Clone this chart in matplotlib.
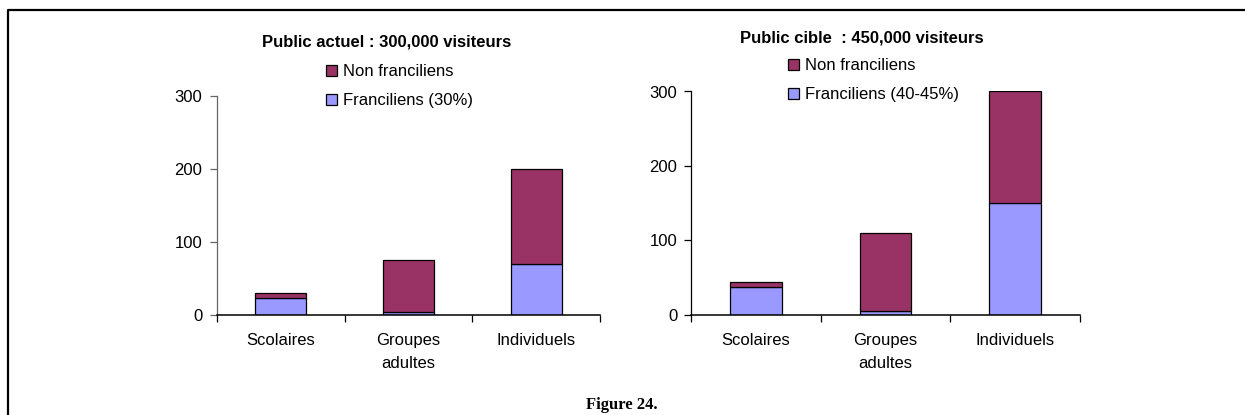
import matplotlib
matplotlib.use("Agg")
import matplotlib.pyplot as plt
from matplotlib.patches import Patch
from matplotlib.lines import Line2D
import numpy as np

plt.rcParams['font.family'] = ['Liberation Sans', 'DejaVu Sans']

categories = ["Scolaires", "Groupes\nadultes", "Individuels"]

# Visitors in thousands
actuel_franciliens = [23, 4, 70]
actuel_non_franciliens = [7, 71, 130]

cible_franciliens = [38, 5, 150]
cible_non_franciliens = [6, 105, 150]

y_ticks = [0, 100, 200, 300]

title_actuel = "Public actuel : 300,000 visiteurs"
title_cible = "Public cible  : 450,000 visiteurs"
label_non = "Non franciliens"
label_fr_actuel = "Franciliens (30%)"
label_fr_cible = "Franciliens (40-45%)"
caption = "Figure 24."

color_non = "#993366"
color_fr = "#9999FF"

W, H = 1245, 415
fig = plt.figure(figsize=(W / 100, H / 100), dpi=100)


def px_box(x0, y_top, x1, y_bottom):
    return [x0 / W, 1 - y_bottom / H, (x1 - x0) / W, (y_bottom - y_top) / H]


def draw_panel(rect, fr, non, spine_color, ylabel_pad):
    ax = fig.add_axes(rect)
    x = np.arange(len(categories))
    ax.bar(x, fr, width=0.4, color=color_fr, edgecolor="black", linewidth=0.9)
    ax.bar(x, non, width=0.4, bottom=fr, color=color_non, edgecolor="black", linewidth=0.9)
    ax.set_xlim(-0.5, len(categories) - 0.5)
    ax.set_ylim(0, 300)
    ax.set_yticks(y_ticks)
    ax.tick_params(axis="y", direction="out", length=5, width=0.9,
                   labelsize=12, pad=ylabel_pad, color=spine_color)
    ax.set_xticks(np.arange(-0.5, len(categories)))
    ax.set_xticklabels([])
    ax.set_xticks(x, minor=True)
    ax.set_xticklabels(categories, minor=True, fontsize=12, linespacing=1.7, va="top")
    ax.tick_params(axis="x", which="major", direction="out", length=5, width=0.9)
    ax.tick_params(axis="x", which="minor", length=0, pad=13)
    for s in ("top", "right"):
        ax.spines[s].set_visible(False)
    ax.spines["left"].set_color(spine_color)
    ax.spines["left"].set_linewidth(0.9)
    ax.spines["bottom"].set_linewidth(1.1)
    ax.patch.set_alpha(0)
    return ax


ax1 = draw_panel(px_box(217, 96, 600, 315), actuel_franciliens,
                 actuel_non_franciliens, "#666666", 5.5)
ax2 = draw_panel(px_box(691, 91.5, 1080, 315), cible_franciliens,
                 cible_non_franciliens, "black", 4.8)

fig.text(387 / W, 1 - 42 / H, title_actuel, ha="center", va="center",
         fontsize=12, fontweight="bold")
fig.text(862 / W, 1 - 38 / H, title_cible, ha="center", va="center",
         fontsize=12, fontweight="bold")


def add_legend(ax, fr_label, x_px, top_px):
    handles = [Patch(facecolor=color_non, edgecolor="black", linewidth=0.9),
               Patch(facecolor=color_fr, edgecolor="black", linewidth=0.9)]
    ax.legend(handles, [label_non, fr_label], loc="upper left",
              bbox_to_anchor=(x_px / W, 1 - top_px / H),
              bbox_transform=fig.transFigure, frameon=False, fontsize=12,
              handlelength=0.65, handleheight=0.65, handletextpad=0.35,
              labelspacing=0.86, borderpad=0, borderaxespad=0)


add_legend(ax1, label_fr_actuel, 326, 64)
add_legend(ax2, label_fr_cible, 788, 58)

fig.text(622 / W, 1 - 405 / H, caption, ha="center", va="center",
         fontsize=12, fontweight="bold", family="Liberation Serif")

# Outer frame: left and top edges of the surrounding box
frame = Line2D([7.5 / W, 7.5 / W, 1.0], [0.0, 1 - 10.5 / H, 1 - 10.5 / H],
               transform=fig.transFigure, color="black", linewidth=1.6)
fig.add_artist(frame)

fig.savefig("out.png", dpi=100)
